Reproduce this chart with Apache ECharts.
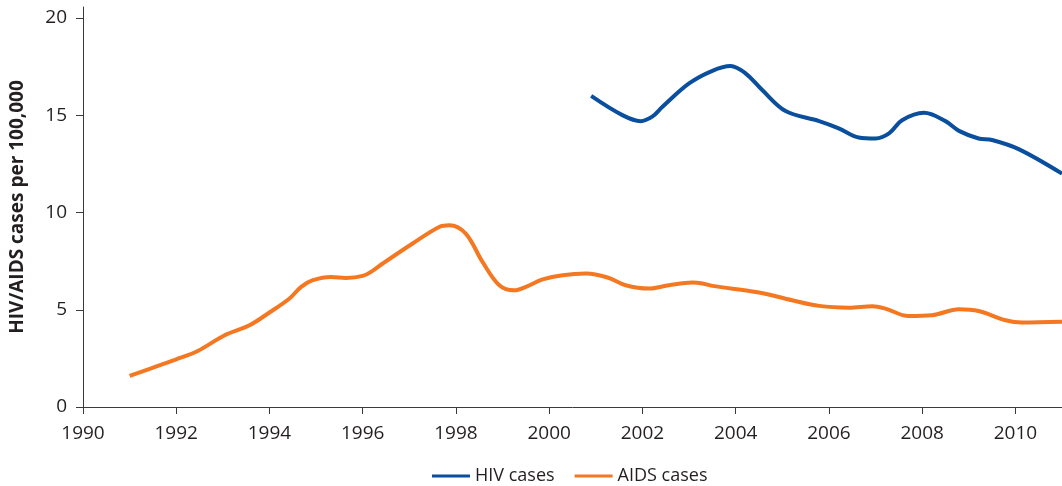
<!DOCTYPE html>
<html>
<head>
<meta charset="utf-8">
<script src="https://cdn.jsdelivr.net/npm/echarts@6/dist/echarts.min.js"></script>
<style>
  html, body { margin: 0; padding: 0; background: #fff; }
  #chart { width: 1062px; height: 486px; }
</style>
</head>
<body>
<div id="chart"></div>
<script>
// HIV cases per 100,000 (year, value)
var hivYears = [2000.9, 2001.57, 2001.96, 2002.21, 2002.43, 2003.0, 2003.5, 2003.89, 2004.21, 2004.57, 2005.07, 2005.79, 2006.21, 2006.64, 2007.0, 2007.29, 2007.57, 2008.04, 2008.5, 2008.79, 2009.21, 2009.5, 2010.07, 2011];
var hivValues = [16.0, 15.01, 14.7, 14.93, 15.44, 16.64, 17.29, 17.53, 17.16, 16.3, 15.22, 14.7, 14.33, 13.86, 13.81, 14.07, 14.75, 15.13, 14.7, 14.2, 13.81, 13.73, 13.26, 12.0];

// AIDS cases per 100,000 (year, value)
var aidsYears = [1991.0, 1992.0, 1992.46, 1993.04, 1993.57, 1994.0, 1994.43, 1994.68, 1994.93, 1995.32, 1995.64, 1996.0, 1996.21, 1996.43, 1997.07, 1997.64, 1997.86, 1998.21, 1998.57, 1998.93, 1999.25, 1999.5, 1999.86, 2000.29, 2000.79, 2001.25, 2001.64, 2002.14, 2002.57, 2003.07, 2003.29, 2003.5, 2004.5, 2005.21, 2005.79, 2006.43, 2006.93, 2007.21, 2007.71, 2008.21, 2008.79, 2009.21, 2009.79, 2010.14, 2011];
var aidsValues = [1.6, 2.45, 2.88, 3.69, 4.2, 4.86, 5.58, 6.18, 6.52, 6.69, 6.64, 6.74, 7.0, 7.38, 8.41, 9.26, 9.35, 8.92, 7.46, 6.26, 6.0, 6.18, 6.56, 6.78, 6.86, 6.66, 6.26, 6.09, 6.26, 6.4, 6.35, 6.23, 5.89, 5.49, 5.2, 5.11, 5.18, 5.06, 4.68, 4.72, 5.03, 4.94, 4.46, 4.34, 4.38];

// tick labels
var xTicks = [1990, 1992, 1994, 1996, 1998, 2000, 2002, 2004, 2006, 2008, 2010];
var yTicks = [0, 5, 10, 15, 20];

function pairs(xs, ys) {
    return xs.map(function (x, i) { return [x, ys[i]]; });
}

var font = '"Open Sans", "Noto Sans", sans-serif';
var chart = echarts.init(document.getElementById('chart'));

var option = {
    animation: false,
    textStyle: { fontFamily: font },
    grid: {
        left: 83,
        right: -1,
        top: 7,
        bottom: 79
    },
    legend: {
        left: 427,
        top: 462,
        itemWidth: 38,
        itemHeight: 3,
        itemGap: 20,
        icon: 'rect',
        textStyle: { fontSize: 18, color: '#231f20', fontFamily: font },
        data: ['HIV cases', 'AIDS cases']
    },
    xAxis: {
        type: 'value',
        min: 1990,
        max: 2011,
        interval: 2,
        splitLine: { show: false },
        axisLine: { lineStyle: { color: '#3a3a3a', width: 1 } },
        axisTick: { show: true, length: 7, customValues: xTicks, lineStyle: { color: '#3a3a3a' } },
        axisLabel: {
            color: '#231f20',
            fontSize: 19,
            margin: 17,
            customValues: xTicks,
            formatter: function (v) { return String(v); }
        }
    },
    yAxis: {
        type: 'value',
        min: 0,
        max: 20.57,
        interval: 5,
        name: 'HIV/AIDS cases per 100,000',
        nameLocation: 'middle',
        nameGap: 56,
        nameTextStyle: { fontSize: 19, fontWeight: 'bold', color: '#231f20', fontFamily: font },
        splitLine: { show: false },
        axisLine: { show: true, lineStyle: { color: '#3a3a3a', width: 1 } },
        axisTick: { show: true, length: 7, customValues: yTicks, lineStyle: { color: '#3a3a3a' } },
        axisLabel: { color: '#231f20', fontSize: 19, margin: 16, customValues: yTicks }
    },
    series: [
        {
            name: 'HIV cases',
            type: 'line',
            data: pairs(hivYears, hivValues),
            smooth: 0.35,
            showSymbol: false,
            color: '#0a4e9e',
            lineStyle: { width: 4, color: '#0a4e9e' }
        },
        {
            name: 'AIDS cases',
            type: 'line',
            data: pairs(aidsYears, aidsValues),
            smooth: 0.35,
            showSymbol: false,
            color: '#f47721',
            lineStyle: { width: 4, color: '#f47721' }
        }
    ]
};
chart.setOption(option, true);
</script>
</body>
</html>
